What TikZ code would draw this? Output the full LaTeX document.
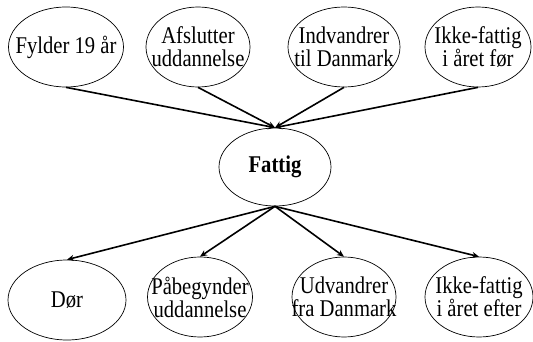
\documentclass[tikz,border=0pt]{standalone}
\usepackage{fontspec}
\setmainfont[FakeStretch=0.86]{Liberation Serif}
\usetikzlibrary{shapes.geometric,arrows.meta}
\begin{document}
\begin{tikzpicture}[x=1pt,y=-1pt,
  ev/.style={ellipse,draw,line width=0.7pt,inner sep=0pt,
    label={[txt]center:#1}},
  txt/.style={align=center,inner sep=0pt,font=\fontsize{24}{23}\selectfont},
  arr/.style={line width=1.6pt,-{Stealth[length=7pt,width=6pt]}}]
\useasboundingbox (0,0) rectangle (533,342);
\node[ev={Fylder 19 år},minimum width=115pt,minimum height=80pt] (t1) at (66,47) {};
\node[ev={Afslutter\\uddannelse},minimum width=104pt,minimum height=80pt] (t2) at (198,47) {};
\node[ev={Indvandrer\\til Danmark},minimum width=112pt,minimum height=80pt] (t3) at (344,47) {};
\node[ev={Ikke-fattig\\i året før},minimum width=106pt,minimum height=80pt] (t4) at (478,47) {};
\node[ev={\bfseries Fattig},minimum width=112pt,minimum height=78pt] (f) at (275,167) {};
\node[ev={Dør},minimum width=118pt,minimum height=80pt] (b1) at (67,300) {};
\node[ev={Påbegynder\\uddannelse},minimum width=105pt,minimum height=80pt] (b2) at (200,297) {};
\node[ev={Udvandrer\\fra Danmark},minimum width=104pt,minimum height=80pt] (b3) at (344,297) {};
\node[ev={Ikke-fattig\\i året efter},minimum width=108pt,minimum height=80pt] (b4) at (479,297) {};
\foreach \n in {t1,t2,t3,t4} \draw[arr] (\n.south) -- (f.north);
\foreach \n in {b1,b2,b3,b4} \draw[arr] (f.south) -- (\n.north);
\end{tikzpicture}
\end{document}
